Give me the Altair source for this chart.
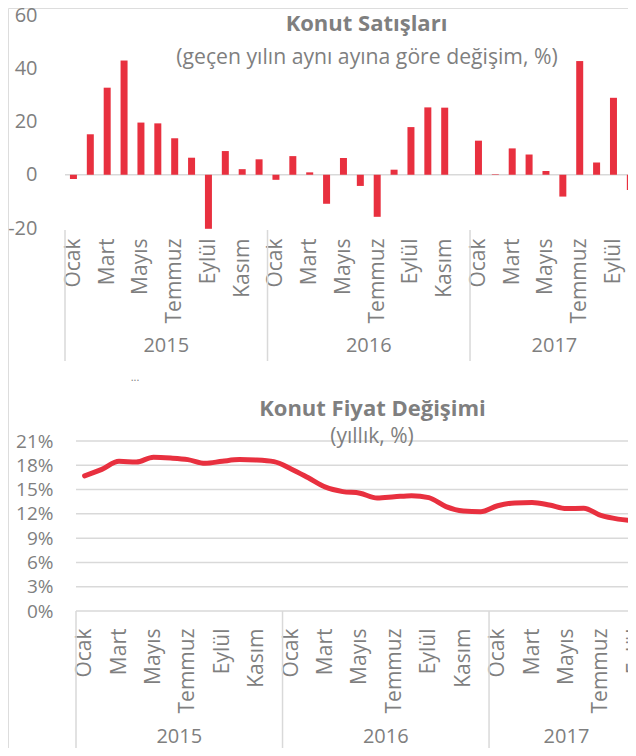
import altair as alt
import pandas as pd

# ---------------- data ----------------
MONTHS = ["Ocak", "Şubat", "Mart", "Nisan", "Mayıs", "Haziran",
          "Temmuz", "Ağustos", "Eylül", "Ekim", "Kasım", "Aralık"]
YEARS = ["2015", "2016", "2017"]

# Konut satışları, geçen yılın aynı ayına göre değişim (%), Ocak 2015 - Ekim 2017
sales_change = [-1.6, 15.2, 32.7, 42.9, 19.6, 19.3, 13.7, 6.4, -20.3, 8.9, 2.1, 5.8,
                -1.9, 7.0, 0.9, -10.9, 6.3, -4.2, -15.8, 1.9, 17.9, 25.3, 25.2, 0.0,
                12.8, 0.2, 9.9, 7.6, 1.4, -8.2, 42.7, 4.6, 28.9, -5.7]

# Konut fiyat değişimi, yıllık (%), Ocak 2015 - Eylül 2017
price_change = [16.7, 17.5, 18.5, 18.4, 19.0, 18.9, 18.7, 18.25, 18.5, 18.7, 18.65, 18.45,
                17.55, 16.45, 15.3, 14.75, 14.55, 13.95, 14.1, 14.25, 14.0, 12.9, 12.35, 12.25,
                13.0, 13.35, 13.4, 13.1, 12.65, 12.7, 11.8, 11.35, 11.15]

top_ticks_y = [-20, 0, 20, 40, 60]
bottom_ticks_y = [0, 3, 6, 9, 12, 15, 18, 21]

TOP_TITLE = "Konut Satışları"
TOP_SUBTITLE = "(geçen yılın aynı ayına göre değişim, %)"
BOT_TITLE = "Konut Fiyat Değişimi"
BOT_SUBTITLE = "(yıllık, %)"

# ---------------- style / layout ----------------
RED = "#E8303F"
GRAY = "#7F7F7F"
LINE_GRAY = "#D9D9D9"
FONT = "Open Sans"

W, H = 620, 740             # whole drawing (page margin is outside)
TOP_X0, MW_TOP = 52, 17.17  # top panel: category axis start, px per month
TOP_Y = [220, 7]            # pixel range of the top value axis (-20 .. 60)
BOT_X0, MW_BOT = 68, 17.21  # bottom panel
BOT_Y = [603, 433]          # pixel range of the bottom value axis (0 .. 21)

LABEL_EXPR = "[" + ",".join("'%s'" % m for m in MONTHS) + "][floor(datum.value) % 12]"


def month_frame(values):
    return pd.DataFrame({"pos": [i + 0.5 for i in range(len(values))], "value": values})


def year_frames(n):
    starts, centers, labels = [], [], []
    for k, y in enumerate(YEARS):
        s = 12 * k
        if s >= n:
            break
        cnt = min(12, n - s)
        starts.append(s)
        centers.append(s + cnt / 2)
        labels.append(y)
    return (pd.DataFrame({"pos": starts}),
            pd.DataFrame({"pos": centers, "year": labels}))


def x_axis(n, label_top):
    return alt.Axis(orient="bottom", offset=label_top - H, labelPadding=0,
                    values=[i + 0.5 for i in range(0, n, 2)], labelExpr=LABEL_EXPR,
                    labelAngle=270, labelAlign="right", labelBaseline="middle",
                    labelFontSize=21, labelColor=GRAY, labelFont=FONT,
                    labelOverlap=False, labelFlush=False, labelBound=False,
                    ticks=False, domain=False, grid=False)


def y_axis(values, expr, label_right, size):
    return alt.Axis(orient="left", offset=-label_right, labelPadding=0,
                    values=values, labelExpr=expr, labelFontSize=size,
                    labelColor=GRAY, labelFont=FONT, labelOverlap=False,
                    labelFlush=False, ticks=False, domain=False, grid=False)


def title_text(text, x, y, size, bold):
    return alt.Chart(pd.DataFrame({"t": [text]})).mark_text(
        font=FONT, fontSize=size, fontWeight="bold" if bold else "normal",
        color=GRAY, align="center", baseline="alphabetic").encode(
        x=alt.value(x), y=alt.value(y), text="t:N")


# ---------------- top panel: Konut Satışları ----------------
n_top = len(sales_change)
top_df = month_frame(sales_change)
top_sep, top_years = year_frames(n_top)

x_top = alt.X("pos:Q", title=None,
              scale=alt.Scale(domain=[0, n_top], range=[TOP_X0, TOP_X0 + n_top * MW_TOP],
                              nice=False, zero=False),
              axis=x_axis(n_top, 230))
y_top = alt.Y("value:Q", title=None,
              scale=alt.Scale(domain=[-20, 60], range=TOP_Y, nice=False, zero=False),
              axis=y_axis(top_ticks_y, "datum.value + ''", 29, 20))

zero_line = alt.Chart(pd.DataFrame({"pos": [0], "pos2": [n_top], "value": [0]})).mark_rule(
    color=LINE_GRAY, strokeWidth=1.5).encode(x=x_top, x2="pos2:Q", y=y_top)

bars = alt.Chart(top_df).mark_bar(size=7, color=RED).encode(
    x=x_top, y=y_top, y2=alt.datum(0))

top_separators = alt.Chart(top_sep).mark_rule(color=LINE_GRAY, strokeWidth=1.5).encode(
    x=x_top, y=alt.value(222), y2=alt.value(353))

top_year_text = alt.Chart(top_years).mark_text(
    font=FONT, fontSize=20, color=GRAY, baseline="middle").encode(
    x=x_top, y=alt.value(338), text="year:N")

dots = alt.Chart(pd.DataFrame({"t": ["..."]})).mark_text(
    font=FONT, fontSize=11, color=GRAY).encode(
    x=alt.value(127), y=alt.value(370), text="t:N")

top = alt.layer(
    zero_line, bars, top_separators, top_year_text, dots,
    title_text(TOP_TITLE, 358.5, 23, 22, True),
    title_text(TOP_SUBTITLE, 359, 55.5, 21.2, False),
)

# ---------------- bottom panel: Konut Fiyat Değişimi ----------------
n_bot = len(price_change)
bot_df = month_frame(price_change)
bot_sep, bot_years = year_frames(n_bot)

x_bot = alt.X("pos:Q", title=None,
              scale=alt.Scale(domain=[0, n_bot], range=[BOT_X0, BOT_X0 + n_bot * MW_BOT],
                              nice=False, zero=False),
              axis=x_axis(n_bot, 620))
y_bot = alt.Y("value:Q", title=None,
              scale=alt.Scale(domain=[0, 21], range=BOT_Y, nice=False, zero=False),
              axis=y_axis(bottom_ticks_y, "datum.value + '%'", 45, 19))

grid = alt.Chart(pd.DataFrame({"value": bottom_ticks_y, "pos": 0, "pos2": n_bot})).mark_rule(
    color=LINE_GRAY, strokeWidth=1.5).encode(y=y_bot, x=x_bot, x2="pos2:Q")

price_line = alt.Chart(bot_df).mark_line(
    color=RED, strokeWidth=5, interpolate="monotone", strokeCap="round").encode(
    x=x_bot, y=y_bot)

bot_separators = alt.Chart(bot_sep).mark_rule(color=LINE_GRAY, strokeWidth=1.5).encode(
    x=x_bot, y=alt.value(603), y2=alt.value(H))

bot_year_text = alt.Chart(bot_years).mark_text(
    font=FONT, fontSize=20, color=GRAY, baseline="middle").encode(
    x=x_bot, y=alt.value(729), text="year:N")

bottom = alt.layer(
    grid, price_line, bot_separators, bot_year_text,
    title_text(BOT_TITLE, 364.5, 408, 22, True),
    title_text(BOT_SUBTITLE, 364, 435, 21, False),
)

chart = alt.layer(top, bottom).resolve_scale(
    x="independent", y="independent"
).resolve_axis(
    x="independent", y="independent"
).properties(
    width=W, height=H, padding=0,
    autosize=alt.AutoSizeParams(type="none", contains="padding"),
).configure_view(stroke=None).configure(font=FONT)

chart.save("out.html", embed_options={"renderer": "svg", "actions": False})
